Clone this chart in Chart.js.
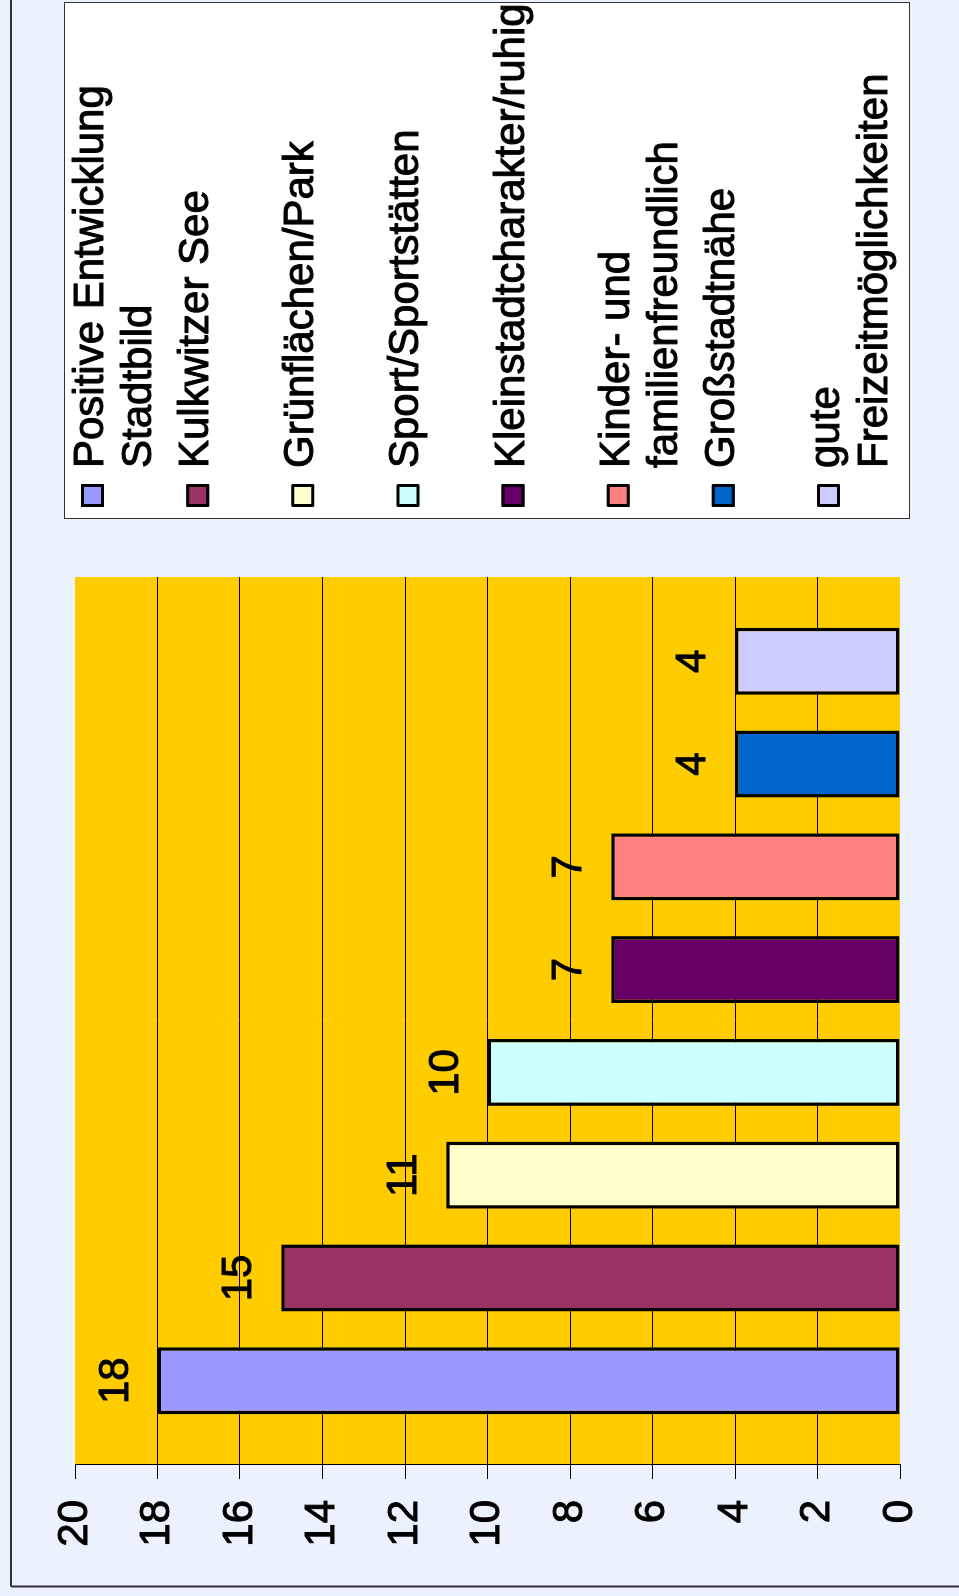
<!DOCTYPE html>
<html>
<head>
<meta charset="utf-8">
<script src="https://cdn.jsdelivr.net/npm/chart.js@4.4.1/dist/chart.umd.min.js"></script>
<style>
    html, body { margin: 0; padding: 0; background: #EBF1FD; overflow: hidden; }
    /* chart is drawn landscape, then turned a quarter left like the scan */
    #wrap {
        position: absolute; left: 0; top: 0;
        width: 1596px; height: 959px;
        transform-origin: 0 0;
        transform: translateY(1596px) rotate(-90deg);
    }
</style>
</head>
<body>
<div id="wrap"><canvas id="chart" width="1596" height="959"></canvas></div>
<script>
// ---------- Data ----------
var categories = [''];
var seriesNames = [
    'Positive Entwicklung\nStadtbild',
    'Kulkwitzer See',
    'Grünflächen/Park',
    'Sport/Sportstätten',
    'Kleinstadtcharakter/ruhig',
    'Kinder- und\nfamilienfreundlich',
    'Großstadtnähe',
    'gute\nFreizeitmöglichkeiten'
];
var seriesValues = [18, 15, 11, 10, 7, 7, 4, 4];
var seriesColors = ['#9999FF', '#993366', '#FFFFCC', '#CCFFFF', '#660066', '#FF8080', '#0066CC', '#CCCCFF'];
var valueTicks = [0, 2, 4, 6, 8, 10, 12, 14, 16, 18, 20];

var FONT = '"Liberation Sans", Arial, sans-serif';
Chart.defaults.font.family = FONT;
Chart.defaults.font.size = 42;
Chart.defaults.color = '#000';

// slightly heavier text, like the old Excel rendering
function heavyText(ctx, text, x, y) {
    ctx.lineWidth = 1;
    ctx.strokeStyle = '#000';
    ctx.lineJoin = 'round';
    ctx.strokeText(text, x, y);
    ctx.fillText(text, x, y);
}

// Background, frame and yellow plot area
var backdrop = {
    id: 'backdrop',
    beforeDraw: function (chart) {
        var ctx = chart.ctx, a = chart.chartArea;
        ctx.save();
        ctx.fillStyle = '#EBF1FD';
        ctx.fillRect(0, 0, chart.width, chart.height);
        ctx.strokeStyle = '#30303c';
        ctx.lineWidth = 2;
        ctx.beginPath();
        ctx.moveTo(9.5, 11); ctx.lineTo(chart.width, 11);
        ctx.moveTo(9.5, 11); ctx.lineTo(9.5, chart.height);
        ctx.stroke();
        ctx.fillStyle = '#FFCC00';
        ctx.fillRect(a.left, a.top, a.right - a.left, a.bottom - a.top);
        ctx.restore();
    }
};

// Value labels above each bar
var valueLabels = {
    id: 'valueLabels',
    afterDatasetsDraw: function (chart) {
        var ctx = chart.ctx;
        ctx.save();
        ctx.font = '42px ' + FONT;
        ctx.fillStyle = '#000';
        ctx.textAlign = 'center';
        ctx.textBaseline = 'alphabetic';
        chart.data.datasets.forEach(function (ds, i) {
            var bar = chart.getDatasetMeta(i).data[0];
            heavyText(ctx, String(ds.data[0]), bar.x, bar.y - 30);
        });
        ctx.restore();
    }
};

// Excel style legend box on the right
var legendBox = {
    id: 'legendBox',
    afterDraw: function (chart) {
        var ctx = chart.ctx;
        ctx.save();
        ctx.fillStyle = '#fff';
        ctx.fillRect(1077, 64, 516, 845);
        ctx.strokeStyle = '#333';
        ctx.lineWidth = 1;
        ctx.strokeRect(1077.5, 64.5, 516, 845);
        ctx.font = '42px ' + FONT;
        ctx.textAlign = 'left';
        ctx.textBaseline = 'alphabetic';
        chart.data.datasets.forEach(function (ds, i) {
            var top = 81 + 105.14 * i;
            ctx.fillStyle = ds.backgroundColor;
            ctx.fillRect(1089, top, 23, 23);
            ctx.strokeStyle = '#000';
            ctx.lineWidth = 3;
            ctx.strokeRect(1090.5, top + 1.5, 20, 20);
            ctx.fillStyle = '#000';
            ds.label.split('\n').forEach(function (line, k) {
                heavyText(ctx, line, 1128, top + 22 + 48 * k);
            });
        });
        ctx.restore();
    }
};

var datasets = seriesNames.map(function (name, i) {
    return {
        label: name,
        data: [seriesValues[i]],
        backgroundColor: seriesColors[i],
        borderColor: '#000',
        borderWidth: 3.5,
        borderSkipped: false,
        categoryPercentage: 0.926,
        barPercentage: 0.652
    };
});

new Chart(document.getElementById('chart').getContext('2d'), {
    type: 'bar',
    data: { labels: categories, datasets: datasets },
    options: {
        responsive: false,
        animation: false,
        devicePixelRatio: 1,
        layout: { padding: { top: 75, bottom: 59, left: 0, right: 577 } },
        plugins: { legend: { display: false }, tooltip: { enabled: false } },
        scales: {
            x: { display: false },
            y: {
                min: 0,
                max: 20,
                afterBuildTicks: function (scale) {
                    scale.ticks = valueTicks.map(function (v) { return { value: v }; });
                },
                afterFit: function (scale) { scale.width = 131; },
                border: { display: true, color: '#000', width: 1 },
                grid: {
                    color: function (c) {
                        return (c.tick && (c.tick.value === 0 || c.tick.value === 20)) ? 'rgba(0,0,0,0)' : '#000';
                    },
                    tickColor: '#000',
                    lineWidth: 1,
                    tickLength: 14
                },
                ticks: {
                    padding: 21,
                    color: '#000',
                    font: { size: 42 },
                    textStrokeColor: '#000',
                    textStrokeWidth: 1
                }
            }
        }
    },
    plugins: [backdrop, valueLabels, legendBox]
});
</script>
</body>
</html>
